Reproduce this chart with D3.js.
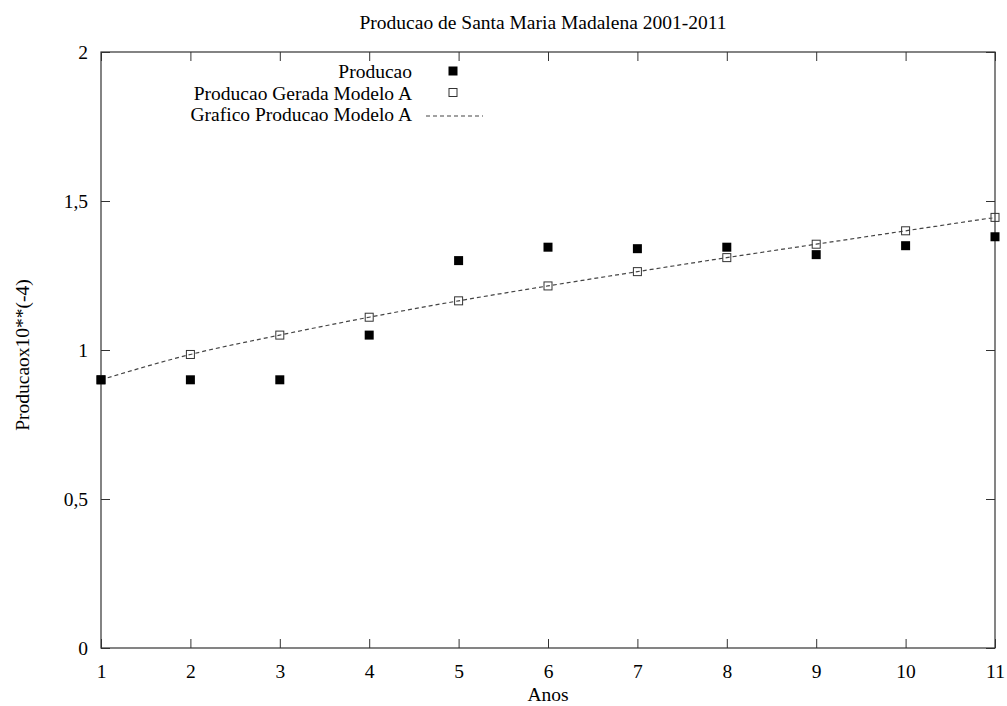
<!DOCTYPE html>
<html>
<head>
<meta charset="utf-8">
<script src="https://cdn.jsdelivr.net/npm/d3@7"></script>
<style>
  body { margin: 0; background: #fff; }
  text { font-family: "Liberation Serif", "DejaVu Serif", serif; fill: #000; }
</style>
</head>
<body>
<svg id="chart"></svg>
<script>
// data
const anos = [1, 2, 3, 4, 5, 6, 7, 8, 9, 10, 11];
const producao = [0.9, 0.9, 0.9, 1.05, 1.3, 1.345, 1.34, 1.345, 1.32, 1.35, 1.38];
const modeloA = [0.9, 0.985, 1.05, 1.11, 1.165, 1.215, 1.263, 1.31, 1.355, 1.4, 1.445];
const yTicks = [0, 0.5, 1, 1.5, 2];
const xTicks = [1, 2, 3, 4, 5, 6, 7, 8, 9, 10, 11];
const legendLabels = ['Producao', 'Producao Gerada Modelo A', 'Grafico Producao Modelo A'];

let width = 1007,
  height = 706;
let margin = { top: 52, right: 12, bottom: 58, left: 101 };
const fontSize = '19.5px';
const serif = '"Liberation Serif", "DejaVu Serif", serif';

let svg = d3.select('#chart')
  .attr('width', width)
  .attr('height', height);

let x = d3.scaleLinear().domain([1, 11]).range([margin.left, width - margin.right]);
let y = d3.scaleLinear().domain([0, 2]).range([height - margin.bottom, margin.top]);

const fmt = d => String(d).replace('.', ',');
const tickLen = 9;

// axes (gnuplot style: inward ticks, mirrored)
svg.append('g')
  .attr('transform', 'translate(0,' + y(0) + ')')
  .call(d3.axisBottom(x).tickValues(xTicks).tickSize(-tickLen).tickPadding(16).tickFormat(d3.format('d')))
  .call(g => g.select('.domain').remove());
svg.append('g')
  .attr('transform', 'translate(0,' + y(2) + ')')
  .call(d3.axisTop(x).tickValues(xTicks).tickSize(-tickLen).tickFormat(''))
  .call(g => g.select('.domain').remove());
svg.append('g')
  .attr('transform', 'translate(' + x(1) + ',0)')
  .call(d3.axisLeft(y).tickValues(yTicks).tickSize(-tickLen).tickPadding(13).tickFormat(fmt))
  .call(g => g.select('.domain').remove());
svg.append('g')
  .attr('transform', 'translate(' + x(11) + ',0)')
  .call(d3.axisRight(y).tickValues(yTicks).tickSize(-tickLen).tickFormat(''))
  .call(g => g.select('.domain').remove());

svg.selectAll('g').attr('font-family', serif).attr('font-size', fontSize);
svg.selectAll('.tick line').attr('stroke', '#333');
svg.selectAll('.tick text').attr('fill', '#000');

// border
svg.append('rect')
  .attr('x', x(1)).attr('y', y(2))
  .attr('width', x(11) - x(1)).attr('height', y(0) - y(2))
  .attr('fill', 'none').attr('stroke', '#333').attr('stroke-width', 1.2);

// title and axis labels
svg.append('text').attr('x', 543).attr('y', 29).attr('text-anchor', 'middle')
  .style('font-size', fontSize).text('Producao de Santa Maria Madalena 2001-2011');
svg.append('text').attr('x', 548).attr('y', 701).attr('text-anchor', 'middle')
  .style('font-size', fontSize).text('Anos');
svg.append('text').attr('transform', 'translate(29,' + 355 + ') rotate(-90)').attr('text-anchor', 'middle')
  .style('font-size', fontSize).text('Producaox10**(-4)');

// model curve
let line = d3.line()
  .x((d, i) => x(anos[i]))
  .y(d => y(d))
  .curve(d3.curveMonotoneX);
svg.append('path')
  .datum(modeloA)
  .attr('d', line)
  .attr('fill', 'none')
  .attr('stroke', '#444')
  .attr('stroke-width', 1.2)
  .attr('stroke-dasharray', '4,3');

const sq = 9;
// model points (open squares)
svg.selectAll('.modelo')
  .data(modeloA)
  .enter()
  .append('rect')
  .attr('x', (d, i) => x(anos[i]) - sq / 2 + 0.5)
  .attr('y', d => y(d) - sq / 2 + 0.5)
  .attr('width', sq - 1).attr('height', sq - 1)
  .attr('fill', 'none').attr('stroke', '#333').attr('stroke-width', 1);

// production points (filled squares)
svg.selectAll('.prod')
  .data(producao)
  .enter()
  .append('rect')
  .attr('x', (d, i) => x(anos[i]) - sq / 2)
  .attr('y', d => y(d) - sq / 2)
  .attr('width', sq).attr('height', sq)
  .attr('fill', '#000');

// legend
let leg = svg.append('g');
const rowY = [71, 92.5, 114];
legendLabels.forEach((t, i) => {
  leg.append('text').attr('x', 412).attr('y', rowY[i] + 7).attr('text-anchor', 'end')
    .style('font-size', fontSize).text(t);
});
leg.append('rect').attr('x', 453 - sq / 2).attr('y', rowY[0] - sq / 2).attr('width', sq).attr('height', sq).attr('fill', '#000');
leg.append('rect').attr('x', 453 - sq / 2 + 0.5).attr('y', rowY[1] - sq / 2 + 0.5).attr('width', sq - 1).attr('height', sq - 1)
  .attr('fill', 'none').attr('stroke', '#333');
leg.append('line').attr('x1', 426).attr('x2', 483).attr('y1', rowY[2] + 2).attr('y2', rowY[2] + 2)
  .attr('stroke', '#444').attr('stroke-width', 1.2).attr('stroke-dasharray', '4,3');
</script>
</body>
</html>
